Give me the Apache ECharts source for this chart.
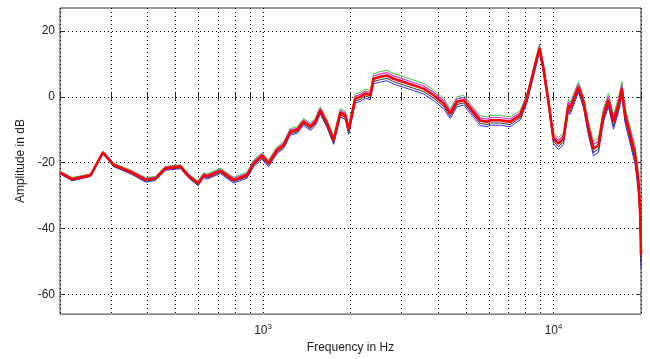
<!DOCTYPE html>
<html>
<head>
<meta charset="utf-8">
<script src="https://cdn.jsdelivr.net/npm/echarts@6/dist/echarts.min.js"></script>
<style>
html, body { margin: 0; padding: 0; background: #fff; }
#container { width: 650px; height: 359px; }
</style>
</head>
<body>
<div id="container"></div>
<script>
var dom = document.getElementById("container");
var myChart = echarts.init(dom);

// frequency points (Hz)
var freq = [200, 220, 255, 281, 306, 354, 394, 426, 461, 520, 555, 598, 625, 642, 713, 792, 881, 928, 992,
    1045, 1117, 1177, 1241, 1309, 1380, 1455, 1513, 1574, 1660, 1750, 1845, 1919, 1971, 2077, 2161, 2248,
    2339, 2402, 2532, 2671, 2814, 3046, 3297, 3568, 3863, 4181, 4410, 4650, 4899, 5167, 5593, 5897, 6052,
    6551, 7091, 7675, 8094, 8530, 8944, 9233, 9605, 9993, 10397, 10817, 11255, 11406, 12181, 12675, 13183,
    13720, 14275, 14850, 15450, 16076, 16725, 17180, 17637, 18345, 19085, 19590, 19860, 20000];
// centre of the bundle of traces (dB)
var amp = [-23.0, -25.0, -23.8, -16.9, -20.7, -23.0, -25.2, -24.8, -21.7, -21.2, -24.1, -26.3, -23.8, -24.2,
    -22.5, -25.3, -23.8, -20.2, -17.9, -20.2, -16.2, -14.7, -10.6, -10.1, -7.6, -9.1, -7.6, -4.1, -8.1,
    -13.2, -4.8, -5.6, -10.1, -0.5, 0.0, 1.0, 0.5, 5.5, 6.1, 6.5, 5.5, 4.5, 3.5, 2.5, 0.5, -2.0, -5.1,
    -1.5, -1.0, -3.5, -7.2, -7.6, -7.1, -7.1, -7.6, -5.6, -0.5, 7.6, 14.8, 8.6, -1.5, -12.6, -14.2, -12.6,
    -2.5, -3.5, 3.0, -1.5, -9.6, -15.7, -14.7, -5.6, -1.0, -7.6, -2.5, 2.5, -5.6, -11.6, -17.7, -25.8,
    -34.8, -48.0];
// half width of the bundle (dB)
var spread = [0.4, 0.5, 0.4, 0.4, 0.5, 0.6, 0.7, 0.6, 0.6, 0.6, 0.6, 0.7, 0.7, 0.8, 0.8, 0.9, 0.9, 1.0, 1.0,
    1.0, 1.0, 1.0, 1.0, 1.0, 1.1, 1.1, 1.1, 1.1, 1.2, 1.2, 1.2, 1.3, 1.3, 1.3, 1.4, 1.4, 1.4, 1.5, 1.6,
    1.6, 1.6, 1.6, 1.6, 1.6, 1.6, 1.6, 1.5, 1.5, 1.5, 1.5, 1.5, 1.5, 1.5, 1.5, 1.5, 1.4, 1.4, 1.3, 1.2,
    1.3, 1.4, 1.6, 1.8, 1.8, 1.8, 1.8, 1.6, 1.8, 2.0, 2.2, 2.2, 2.0, 2.0, 2.2, 2.2, 2.2, 2.4, 2.5, 2.8,
    3.0, 3.5, 4.0];

var xMajor = [1000, 10000];
var xMinor = [200, 300, 400, 500, 600, 700, 800, 900, 1000, 2000, 3000, 4000, 5000, 6000, 7000, 8000, 9000, 10000, 20000];
var yTicks = [-60, -40, -20, 0, 20];

function pts(k) {
    var res = [];
    for (var i = 0; i < freq.length; i++) {
        res.push([freq[i], amp[i] + k * spread[i]]);
    }
    return res;
}

var gridLine = {show: true, lineStyle: {color: '#000', type: [1, 3], width: 1}};
var labelFont = {color: '#222', fontSize: 12, fontFamily: 'Liberation Sans, Arial, sans-serif'};

option = {
    animation: false,
    backgroundColor: '#fff',
    grid: {left: 60, right: 9, top: 8, bottom: 44, show: true, borderColor: '#333', borderWidth: 1},
    xAxis: [{
        type: 'log', logBase: 10, min: 200, max: 20000,
        name: 'Frequency in Hz', nameLocation: 'middle', nameGap: 27,
        nameTextStyle: labelFont,
        axisLine: {show: false},
        axisTick: {inside: true, length: 4, customValues: xMinor, lineStyle: {color: '#333'}},
        splitLine: gridLine,
        axisLabel: {
            customValues: xMajor, margin: 9,
            formatter: function (v) { return '{b|10}{s|' + Math.round(Math.log10(v)) + '}'; },
            rich: {
                b: {fontSize: 12, color: '#222', fontFamily: 'Liberation Sans, Arial, sans-serif', lineHeight: 16},
                s: {fontSize: 8, color: '#222', fontFamily: 'Liberation Sans, Arial, sans-serif', verticalAlign: 'top', lineHeight: 16}
            }
        }
    }, {
        type: 'log', logBase: 10, min: 200, max: 20000, position: 'top',
        axisLine: {show: false},
        axisTick: {inside: true, length: 4, customValues: xMinor, lineStyle: {color: '#333'}},
        axisLabel: {show: false},
        splitLine: {show: false}
    }],
    yAxis: [{
        type: 'value', min: -66, max: 27,
        name: 'Amplitude in dB', nameLocation: 'middle', nameGap: 23,
        nameTextStyle: labelFont,
        axisLine: {show: false},
        axisTick: {inside: true, length: 5, customValues: yTicks, lineStyle: {color: '#333'}},
        axisLabel: Object.assign({customValues: yTicks, margin: 5}, labelFont),
        splitLine: gridLine
    }, {
        type: 'value', min: -66, max: 27, position: 'right',
        axisLine: {show: false},
        axisTick: {inside: true, length: 5, customValues: yTicks, lineStyle: {color: '#333'}},
        axisLabel: {show: false},
        splitLine: {show: false}
    }],
    series: [
        {type: 'line', data: pts(-1), showSymbol: false, lineStyle: {color: '#2a2aff', width: 1}},
        {type: 'line', data: pts(1), showSymbol: false, lineStyle: {color: '#33cc33', width: 1}},
        {type: 'line', data: pts(0.55), showSymbol: false, lineStyle: {color: '#e030e0', width: 1.2}},
        {type: 'line', data: pts(-0.55), showSymbol: false, lineStyle: {color: '#333', width: 1}},
        {type: 'line', data: pts(0), showSymbol: false, lineStyle: {color: '#ff0000', width: 2.6}}
    ]
};

if (option && typeof option === "object") {
    myChart.setOption(option, true);
}
</script>
</body>
</html>
